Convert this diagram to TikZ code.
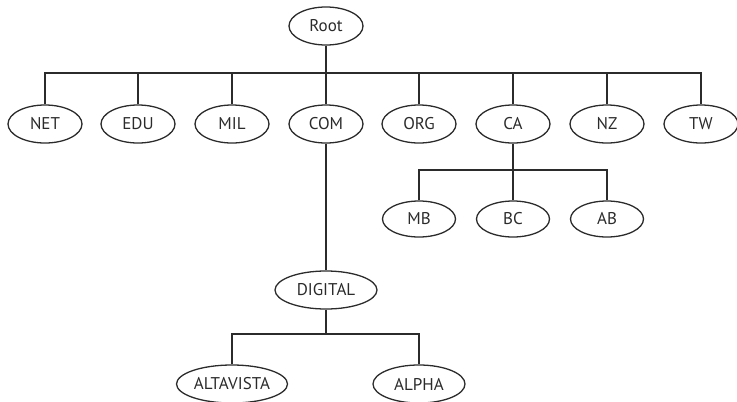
\documentclass[tikz,border=0pt]{standalone}
\usepackage{fontspec}
\setmainfont{PT Sans}
\usetikzlibrary{shapes.geometric}
\definecolor{ink}{HTML}{2B2B2B}
\tikzset{
  dnsnode/.style={ellipse, draw=ink, line width=1.3pt, text=ink, font=\fontsize{17}{19}\selectfont,
    minimum width=74pt, minimum height=38pt, inner sep=0pt},
  link/.style={draw=ink, line width=1.3pt}
}
\begin{document}
\begin{tikzpicture}[x=1pt, y=-1pt]
\useasboundingbox (0,0) rectangle (737,402);

% root and top-level domains
\node[dnsnode] (root) at (326,26) {Root};
\node[dnsnode] (net) at (45,124) {NET};
\node[dnsnode] (edu) at (138,124) {EDU};
\node[dnsnode] (mil) at (232,124) {MIL};
\node[dnsnode] (com) at (326,124) {COM};
\node[dnsnode] (org) at (419,124) {ORG};
\node[dnsnode] (ca)  at (513,124) {CA};
\node[dnsnode] (nz)  at (607,124) {NZ};
\node[dnsnode] (tw)  at (701,124) {TW};

% provinces under CA
\node[dnsnode, minimum width=73pt, minimum height=36pt] (mb) at (419,219) {MB};
\node[dnsnode, minimum width=73pt, minimum height=36pt] (bc) at (513,219) {BC};
\node[dnsnode, minimum width=73pt, minimum height=36pt] (ab) at (607,219) {AB};

% second and third levels under COM
\node[dnsnode, minimum width=102pt] (digital) at (326,290) {DIGITAL};
\node[dnsnode, minimum width=111pt] (altavista) at (232,384) {ALTAVISTA};
\node[dnsnode, minimum width=92pt] (alpha) at (419,384) {ALPHA};

% bus levels
\coordinate (rbus) at (326,73);
\coordinate (cbus) at (513,170);
\coordinate (dbus) at (326,334);

% Root to top-level domains
\draw[link] (root.south) -- (rbus);
\draw[link] (net.north) -- (net |- rbus) -- (tw |- rbus) -- (tw.north);
\foreach \n in {edu,mil,com,org,ca,nz}
  \draw[link] (\n.north) -- (\n |- rbus);

% CA to provinces
\draw[link] (ca.south) -- (cbus);
\draw[link] (mb.north) -- (mb |- cbus) -- (ab |- cbus) -- (ab.north);
\draw[link] (bc.north) -- (bc |- cbus);

% COM to DIGITAL, DIGITAL to its hosts
\draw[link] (com.south) -- (digital.north);
\draw[link] (digital.south) -- (dbus);
\draw[link] (altavista.north) -- (altavista |- dbus) -- (alpha |- dbus) -- (alpha.north);
\end{tikzpicture}
\end{document}
